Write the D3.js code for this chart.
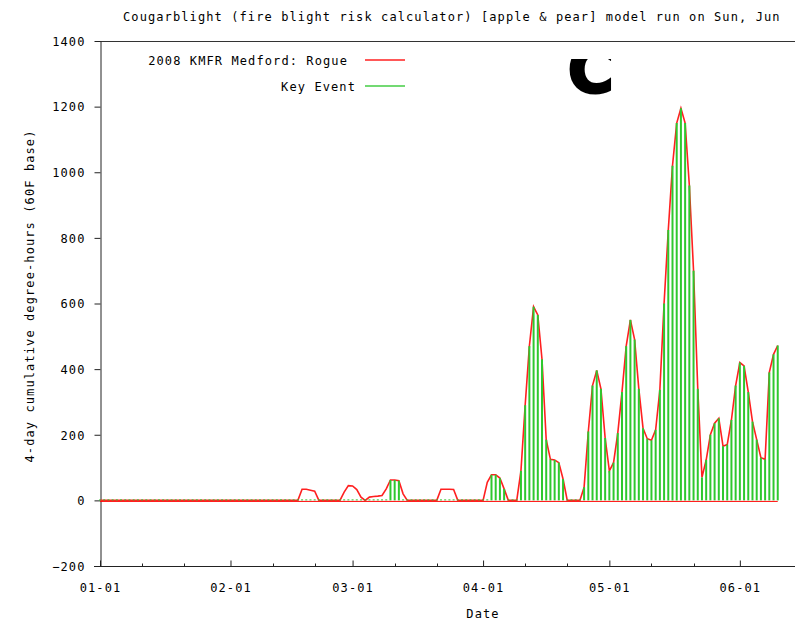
<!DOCTYPE html>
<html>
<head>
<meta charset="utf-8">
<script src="https://d3js.org/d3.v7.min.js"></script>
<style>
body { margin: 0; background: #fff; }
text { font-family: "DejaVu Sans Mono", monospace; font-size: 12px; letter-spacing: 1.1px; fill: #000; }
</style>
</head>
<body>
<script>
var width = 795, height = 620;

var title = "Cougarblight (fire blight risk calculator) [apple & pear] model run on Sun, Jun";
var seriesNames = ["2008 KMFR Medford: Rogue", "Key Event"];
var xTitle = "Date";
var yTitle = "4-day cumulative degree-hours (60F base)";
var yTicks = [-200, 0, 200, 400, 600, 800, 1000, 1200, 1400];
var startDate = Date.UTC(2008, 0, 1);

// one value per day starting 2008-01-01
var risk = [
  0, 0, 0, 0, 0, 0, 0, 0, 0, 0,
  0, 0, 0, 0, 0, 0, 0, 0, 0, 0,
  0, 0, 0, 0, 0, 0, 0, 0, 0, 0,
  0, 0, 0, 0, 0, 0, 0, 0, 0, 0,
  0, 0, 0, 0, 0, 0, 0, 0, 34, 34,
  31, 28, 0, 0, 0, 0, 0, 0, 25, 45,
  44, 33, 10, 0, 10, 12, 13, 15, 35, 62,
  62, 60, 20, 0, 0, 0, 0, 0, 0, 0,
  0, 34, 34, 34, 33, 0, 0, 0, 0, 0,
  0, 0, 55, 78, 78, 68, 35, 0, 0, 0,
  90, 290, 470, 590, 565, 430, 185, 125, 123, 115,
  65, 0, 0, 0, 0, 40, 210, 350, 396, 340,
  190, 90, 115, 205, 330, 470, 550, 490, 340, 220,
  188, 183, 215, 337, 600, 824, 1020, 1150, 1195, 1150,
  960, 700, 340, 70, 123, 200, 235, 250, 165, 170,
  245, 350, 420, 410, 330, 240, 185, 130, 125, 390,
  445, 472
];

var keyEvent = [
  0, 0, 0, 0, 0, 0, 0, 0, 0, 0,
  0, 0, 0, 0, 0, 0, 0, 0, 0, 0,
  0, 0, 0, 0, 0, 0, 0, 0, 0, 0,
  0, 0, 0, 0, 0, 0, 0, 0, 0, 0,
  0, 0, 0, 0, 0, 0, 0, 0, 0, 0,
  0, 0, 0, 0, 0, 0, 0, 0, 0, 0,
  0, 0, 0, 0, 0, 0, 0, 0, 0, 62,
  62, 60, 0, 0, 0, 0, 0, 0, 0, 0,
  0, 0, 0, 0, 0, 0, 0, 0, 0, 0,
  0, 0, 0, 78, 78, 68, 35, 0, 0, 0,
  90, 290, 470, 590, 565, 430, 185, 125, 123, 115,
  65, 0, 0, 0, 0, 40, 210, 350, 396, 340,
  190, 90, 115, 205, 330, 470, 550, 490, 340, 220,
  188, 183, 215, 337, 600, 824, 1020, 1150, 1195, 1150,
  960, 700, 340, 70, 123, 200, 235, 250, 165, 170,
  245, 350, 420, 410, 330, 240, 185, 130, 125, 390,
  445, 472
];

function dayDate(i) { return new Date(startDate + i * 864e5); }

var svg = d3.select("body").append("svg")
  .attr("width", width).attr("height", height)
  .style("display", "block");

var x = d3.scaleUtc()
  .domain([dayDate(0), dayDate(161.3)])
  .range([100, 779]);
var y = d3.scaleLinear()
  .domain([-200, 1400])
  .range([566, 41]);

// title
svg.append("text").attr("x", 123).attr("y", 20.5).text(title);

// frame: top border, left axis, bottom axis (image is cut on the right)
svg.append("line").attr("x1", 100).attr("x2", 800).attr("y1", 41.5).attr("y2", 41.5)
  .attr("stroke", "#333");

var yaxis = d3.axisLeft(y).tickValues(yTicks).tickFormat(d3.format("d"))
  .tickSizeInner(6).tickSizeOuter(0).tickPadding(9);
var gy = svg.append("g").attr("transform", "translate(100.5,0)").call(yaxis);
gy.attr("font-family", null).attr("font-size", null);
gy.select(".domain").attr("stroke", "#222");
gy.selectAll(".tick line").attr("stroke", "#222");
gy.selectAll("text").attr("dy", "0.36em");

var months = d3.utcMonth.range(dayDate(0), dayDate(162));
var minorDays = d3.utcDay.range(dayDate(0), dayDate(161.3)).filter(function(d) {
  return d.getUTCDate() == 11 || d.getUTCDate() == 21;
});
var xaxis = d3.axisBottom(x).tickValues(months).tickFormat(d3.utcFormat("%m-%d"))
  .tickSizeInner(-6).tickSizeOuter(0).tickPadding(17);
var gx = svg.append("g").attr("transform", "translate(0,566.5)").call(xaxis);
gx.select(".domain").remove();
gx.attr("font-family", null).attr("font-size", null);
gx.selectAll(".tick line").attr("stroke", "#222");
gx.selectAll(".minor").data(minorDays).enter().append("line")
  .attr("x1", function(d) { return Math.round(x(d)) + 0.5; })
  .attr("x2", function(d) { return Math.round(x(d)) + 0.5; })
  .attr("y1", 0).attr("y2", -3).attr("stroke", "#222");
gx.append("line").attr("x1", 94).attr("x2", 800).attr("y1", 0).attr("y2", 0).attr("stroke", "#222");

// axis titles
svg.append("text").attr("x", 483).attr("y", 618).attr("text-anchor", "middle").text(xTitle);
svg.append("text").attr("transform", "translate(34,296) rotate(-90)")
  .attr("text-anchor", "middle").text(yTitle);

// risk line
var line = d3.line()
  .x(function(d, i) { return x(dayDate(i)); })
  .y(function(d) { return y(d); });
svg.append("line").attr("x1", x(dayDate(0))).attr("x2", x(dayDate(risk.length - 1)))
  .attr("y1", y(0) + 1).attr("y2", y(0) + 1).attr("stroke", "#f00").attr("stroke-width", 1);
svg.append("path").datum(risk)
  .attr("d", line)
  .attr("fill", "none")
  .attr("stroke", "#ff2020")
  .attr("stroke-width", 1.6);

// key event impulses
svg.append("g").selectAll("line").data(keyEvent).enter().append("line")
  .attr("x1", function(d, i) { return x(dayDate(i)); })
  .attr("x2", function(d, i) { return x(dayDate(i)); })
  .attr("y1", y(0))
  .attr("y2", function(d) { return d > 0 ? y(d) : y(0) - 1; })
  .attr("stroke", "#2ec82e")
  .attr("stroke-width", 2);

// legend
var legend = [
  { name: seriesNames[0], color: "#ff2020", tx: 348, ty: 65, ly: 60 },
  { name: seriesNames[1], color: "#44cc44", tx: 356, ty: 91, ly: 86 }
];
legend.forEach(function(l) {
  svg.append("text").attr("x", l.tx).attr("y", l.ty).attr("text-anchor", "end").text(l.name);
  svg.append("line").attr("x1", 365).attr("x2", 405).attr("y1", l.ly).attr("y2", l.ly)
    .attr("stroke", l.color).attr("stroke-width", 1.6);
});

// large clipped glyph in the upper plot area
svg.append("clipPath").attr("id", "cclip").append("rect")
  .attr("x", 555).attr("y", 59).attr("width", 80).attr("height", 50);
svg.append("text").attr("clip-path", "url(#cclip)")
  .attr("x", 568).attr("y", 92)
  .style("font-family", "'DejaVu Sans', sans-serif")
  .style("font-weight", "bold").style("font-size", "62px").style("letter-spacing", "0")
  .style("stroke", "#000").style("stroke-width", "3px")
  .text("C");
</script>
</body>
</html>
